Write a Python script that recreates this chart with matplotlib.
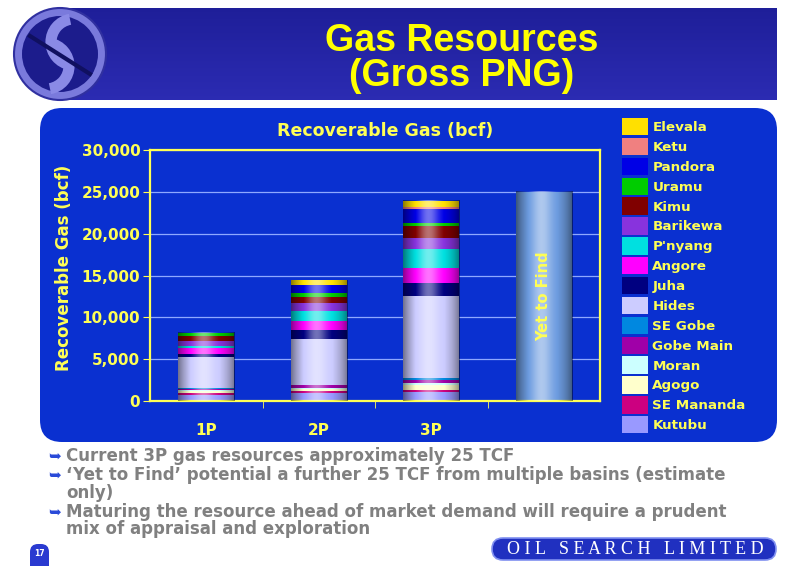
import numpy as np
import matplotlib
matplotlib.use("Agg")
import matplotlib.pyplot as plt
from matplotlib.patches import FancyBboxPatch, Circle, Arc, Patch

plt.rcParams['font.family'] = ['DejaVu Sans']
plt.rcParams['font.weight'] = 'bold'

# --- data (bcf), stacked bottom -> top ---
fields = ['Kutubu', 'SE Mananda', 'Agogo', 'Moran', 'Gobe Main', 'SE Gobe', 'Hides',
          'Juha', 'Angore', "P'nyang", 'Barikewa', 'Kimu', 'Uramu', 'Pandora', 'Ketu', 'Elevala']
field_colors = ['#9999ff', '#cc0080', '#ffffcc', '#ccffff', '#a000a8', '#0088e0', '#ccccff',
                '#000080', '#ff00ff', '#00e0e0', '#8833dd', '#800000', '#00cc00', '#0000e6',
                '#f08080', '#ffe000']
cases = ['1P', '2P', '3P']
p1 = [700, 240, 280, 100, 150, 50, 3780, 280, 720, 320, 560, 600, 400, 0, 0, 0]
p2 = [1000, 200, 250, 150, 320, 50, 5460, 1075, 1115, 1195, 875, 800, 400, 915, 80, 520]
p3 = [1040, 280, 600, 280, 320, 200, 9840, 1590, 1710, 2270, 1390, 1390, 320, 1670, 320, 720]
yet_to_find = 25000
yticks = [0, 5000, 10000, 15000, 20000, 25000, 30000]

PANEL = '#0a30d0'
YEL = '#ffff55'

fig = plt.figure(figsize=(8, 5.66), dpi=100)
fig.patch.set_facecolor('white')

# slide background drawn in pixel coordinates
bg = fig.add_axes([0, 0, 1, 1], zorder=0)
bg.set_xlim(0, 800)
bg.set_ylim(566, 0)
bg.axis('off')

# header banner with gradient
grad = np.linspace(0, 1, 50).reshape(-1, 1)
banner = np.dstack([0.12 + 0.05 * grad, 0.12 + 0.05 * grad, 0.60 + 0.10 * grad])
bg.imshow(banner, extent=(60, 777, 100, 8), aspect='auto', zorder=1)

# logo
bg.add_patch(Circle((60, 54), 46, facecolor='#7a7adc', edgecolor='#3030a0', lw=1.5, zorder=2))
bg.add_patch(Circle((60, 54), 38, facecolor='#1c1c8c', edgecolor='none', zorder=3))
bg.add_patch(Arc((74, 42), 46, 46, theta1=100, theta2=260, color='#8a8ae6', lw=8, zorder=4))
bg.add_patch(Arc((46, 66), 46, 46, theta1=280, theta2=440, color='#8a8ae6', lw=8, zorder=4))
bg.plot([30, 90], [36, 74], color='#101060', lw=3, zorder=5)

bg.text(462, 51, 'Gas Resources', color='#ffff00', fontsize=27, family='Liberation Sans',
        ha='center', va='baseline', zorder=6)
bg.text(462, 86, '(Gross PNG)', color='#ffff00', fontsize=27, family='Liberation Sans',
        ha='center', va='baseline', zorder=6)

# chart panel
bg.add_patch(FancyBboxPatch((40, 108), 737, 334, boxstyle='round,pad=0,rounding_size=22',
                            facecolor=PANEL, edgecolor='none', zorder=1))

bg.text(385, 131, 'Recoverable Gas (bcf)', color=YEL, fontsize=12.5, ha='center', va='center', zorder=6)
bg.text(64, 268, 'Recoverable Gas (bcf)', color=YEL, fontsize=12, ha='center', va='center',
        rotation=90, zorder=6)

# bullets
bullets = [(456, 'Current 3P gas resources approximately 25 TCF', None),
           (475, "\u2018Yet to Find\u2019 potential a further 25 TCF from multiple basins (estimate", 'only)'),
           (512, 'Maturing the resource ahead of market demand will require a prudent',
            'mix of appraisal and exploration')]
for y, l1, l2 in bullets:
    bg.text(55, y, '\u27a5', color='#2a4ad8', fontsize=11, ha='center', va='center', zorder=6)
    bg.text(66, y, l1, color='#808080', fontsize=12, ha='left', va='center', zorder=6)
    if l2:
        bg.text(66, y + 17.5, l2, color='#808080', fontsize=12, ha='left', va='center', zorder=6)

# footer
bg.add_patch(FancyBboxPatch((492, 538), 284, 22, boxstyle='round,pad=0,rounding_size=11',
                            facecolor='#2030c0', edgecolor='#8090f0', lw=1.2, zorder=2))
bg.text(635, 549.5, 'O I L   S E A R C H   L I M I T E D', color='white', fontsize=13,
        family='Liberation Serif', fontweight='normal', ha='center', va='center', zorder=6)
bg.add_patch(FancyBboxPatch((30, 544), 19, 30, boxstyle='round,pad=0,rounding_size=8',
                            facecolor='#2a3ad0', edgecolor='none', zorder=2))
bg.text(39.5, 553, '17', color='white', fontsize=5.5, ha='center', va='center', zorder=6)

# chart axes
ax = fig.add_axes([150 / 800, 1 - 401 / 566, 450 / 800, 251 / 566], zorder=2)
ax.set_facecolor('none')
x = np.arange(len(cases) + 1)
w = 0.5
stacks = np.array([p1, p2, p3])
bottom = np.zeros(len(cases))
for i, name in enumerate(fields):
    ax.bar(x[:3], stacks[:, i], w, bottom=bottom, color=field_colors[i], zorder=2, label=name)
    bottom += stacks[:, i]
ax.bar(x[3], yet_to_find, w, color='#6d9ce0', zorder=2)

# cylinder shading
u = np.linspace(0, 1, 80)
prof = 0.45 * np.exp(-((u - 0.45) / 0.18) ** 2) - 0.45 * (np.abs(u - 0.5) * 2) ** 3
shade = np.zeros((1, len(u), 4))
shade[0, :, :3] = (prof > 0)[:, None].astype(float)
shade[0, :, 3] = np.abs(prof)
totals = list(bottom) + [yet_to_find]
for xi, t in zip(x, totals):
    ax.imshow(shade, extent=(xi - w / 2, xi + w / 2, 0, t), aspect='auto',
              interpolation='bilinear', zorder=3)
ax.text(x[3], yet_to_find / 2, 'Yet to Find', rotation=90, color=YEL, fontsize=10.5,
        ha='center', va='center', zorder=4)

ax.set_xlim(-0.5, 3.5)
ax.set_ylim(0, 30000)
ax.set_yticks(yticks)
ax.set_yticklabels([f'{v:,}' for v in yticks])
ax.set_xticks(x)
ax.set_xticklabels(cases + [''])
ax.set_xticks([0.5, 1.5, 2.5], minor=True)
ax.tick_params(axis='x', which='major', length=0, pad=16, colors=YEL, labelsize=11)
ax.tick_params(axis='x', which='minor', length=5, color=YEL, direction='out')
ax.tick_params(axis='y', length=5, color=YEL, labelcolor=YEL, labelsize=11, pad=2)
ax.grid(axis='y', color='#8fa8ff', lw=0.9, zorder=1)
for s in ax.spines.values():
    s.set_color(YEL)
    s.set_linewidth(1.6)

handles = [Patch(facecolor=c, label=n) for n, c in zip(fields, field_colors)][::-1]
leg = ax.legend(handles=handles, loc='upper left', bbox_to_anchor=(622 / 800, 1 - 118 / 566),
                bbox_transform=fig.transFigure, frameon=False, fontsize=9.7, labelcolor=YEL,
                handlelength=1.9, handleheight=1.6, labelspacing=0.19, handletextpad=0.35,
                borderpad=0, borderaxespad=0)

fig.savefig('out.png', dpi=100, facecolor='white')
